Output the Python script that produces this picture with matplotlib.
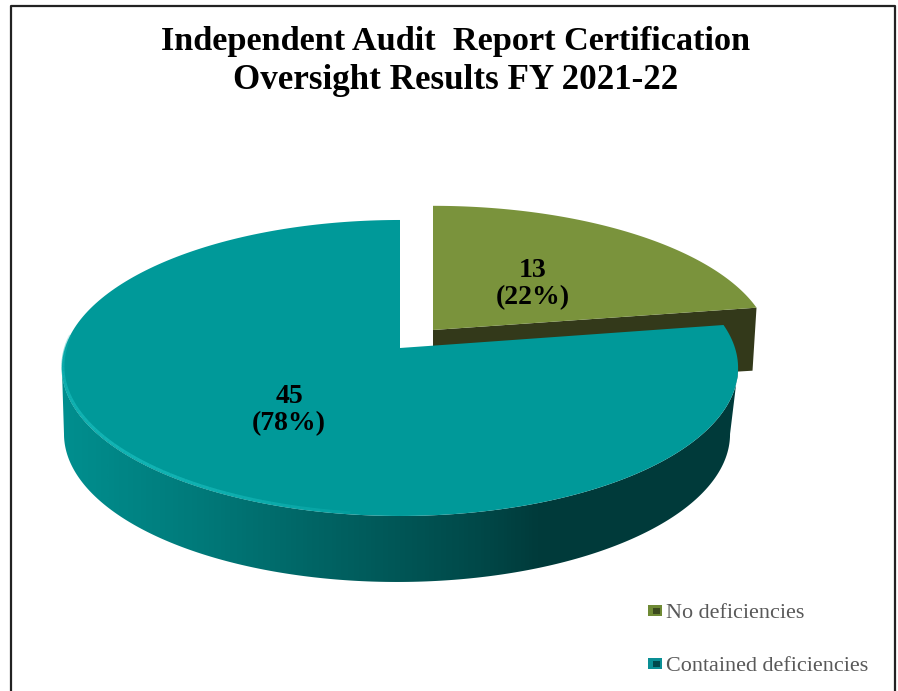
import numpy as np
import matplotlib
matplotlib.use('Agg')
import matplotlib.pyplot as plt
from matplotlib.colors import LinearSegmentedColormap
from matplotlib.patches import Polygon, Rectangle

plt.rcParams['font.family'] = ['Liberation Serif', 'DejaVu Serif']

# data
categories = ['No deficiencies', 'Contained deficiencies']
counts = [13, 45]
percents = [22, 78]
title_lines = ['Independent Audit  Report Certification', 'Oversight Results FY 2021-22']

# pie geometry, in picture pixels
TILT = 0.135
RX, RY = 335, 145.3
TEAL_TIP = (400, 348)
GREEN_TIP = (433, 330)
GREEN_SCALE = 0.97
DEPTH = 67

GREEN = '#7a933c'
GREEN_SIDE = '#33391a'
TEAL = '#009999'


def arc(tip, start, stop, scale=1.0, n=240):
    # angles clockwise from 12 o'clock, disc seen in perspective
    t = np.radians(np.linspace(start, stop, n))
    u, v = np.sin(t), np.cos(t)
    w = 1 + TILT * v
    return tip[0] + RX * u / w, tip[1] - RY * scale * v / w


fig = plt.figure(figsize=(8.98, 6.91), dpi=100)
ax = fig.add_axes([0, 0, 1, 1])
ax.set_xlim(0, 898)
ax.set_ylim(691, 0)
ax.axis('off')

# frame, open at the bottom
ax.plot([11, 11, 895, 895], [691, 6, 6, 691], color='#222222', lw=1.6)

split = 360 * counts[0] / sum(counts)

# teal side wall with horizontal shading, between the widest points of the rim
widest = np.degrees(np.arccos(-TILT))
sx, sy = arc(TEAL_TIP, widest, 360 - widest)
lx = (sx - TEAL_TIP[0] - 1.5) * 0.985 + TEAL_TIP[0] - 1.5
ly = sy + DEPTH - 1
side = np.column_stack([np.r_[sx, lx[::-1]], np.r_[sy, ly[::-1]]])
shade = LinearSegmentedColormap.from_list('side', [
    (0.0, '#008f8f'), (0.2, '#007a7a'), (0.38, '#006464'), (0.5, '#005656'),
    (0.62, '#004848'), (0.71, '#003a3a'), (1.0, '#003b3b')])
im = ax.imshow(np.linspace(0, 1, 300).reshape(1, -1), cmap=shade, aspect='auto',
               extent=[60, 740, 600, 330], zorder=1)
clip = Polygon(side, closed=True, transform=ax.transData)
im.set_clip_path(clip)
ax.set_xlim(0, 898)
ax.set_ylim(691, 0)

# green slice: side first, so the teal top covers it
gx, gy = arc(GREEN_TIP, 0, split, GREEN_SCALE)
ax.add_patch(Polygon([(GREEN_TIP[0], GREEN_TIP[1]), (gx[-1], gy[-1]),
                      (gx[-1] - 4, gy[-1] + 63), (GREEN_TIP[0], GREEN_TIP[1] + 60)],
                     closed=True, fc=GREEN_SIDE, ec='none', zorder=2))
ax.add_patch(Polygon(np.column_stack([np.r_[GREEN_TIP[0], gx], np.r_[GREEN_TIP[1], gy]]),
                     closed=True, fc=GREEN, ec='none', zorder=3))

# teal top
tx, ty = arc(TEAL_TIP, split, 360)
ax.add_patch(Polygon(np.column_stack([np.r_[TEAL_TIP[0], tx], np.r_[TEAL_TIP[1], ty]]),
                     closed=True, fc=TEAL, ec='none', zorder=4))

# light rim on the lower left, fading out at both ends
rx, ry = arc(TEAL_TIP, 186, 276, n=60)
for i in range(len(rx) - 1):
    fade = np.sin(np.pi * i / (len(rx) - 2)) ** 0.5
    ax.plot(rx[i:i + 2] + 1, ry[i:i + 2] - 1.5, color='#12b4b4', lw=2.2, alpha=fade,
            solid_capstyle='butt', zorder=5)

# title
for line, y, size in zip(title_lines, [41, 80], [24.7, 25.2]):
    ax.text(456, y, line, ha='center', va='center', fontsize=size, fontweight='bold',
            color='black', zorder=6)

# slice labels
label_pos = [(533, 284), (289, 410)]
for n, p, (x, y) in zip(counts, percents, label_pos):
    ax.text(x, y, f'{n}\n({p}%)', ha='center', va='center', fontsize=20, fontweight='bold',
            linespacing=1.08, color='black', zorder=6)

# legend
swatches = [('#6f8a35', '#3c4a1e'), ('#0a8f95', '#00484c')]
for name, (outer, inner), y in zip(categories, swatches, [610.5, 663.5]):
    ax.add_patch(Rectangle((648, y - 5.5), 14, 11, fc=outer, ec='none', zorder=6))
    ax.add_patch(Rectangle((653, y - 3), 7, 6, fc=inner, ec='none', zorder=7))
    ax.text(666, y + 7.5, name, ha='left', va='baseline', fontsize=15.9, color='#595959', zorder=6)

fig.savefig('out.png', dpi=100)
